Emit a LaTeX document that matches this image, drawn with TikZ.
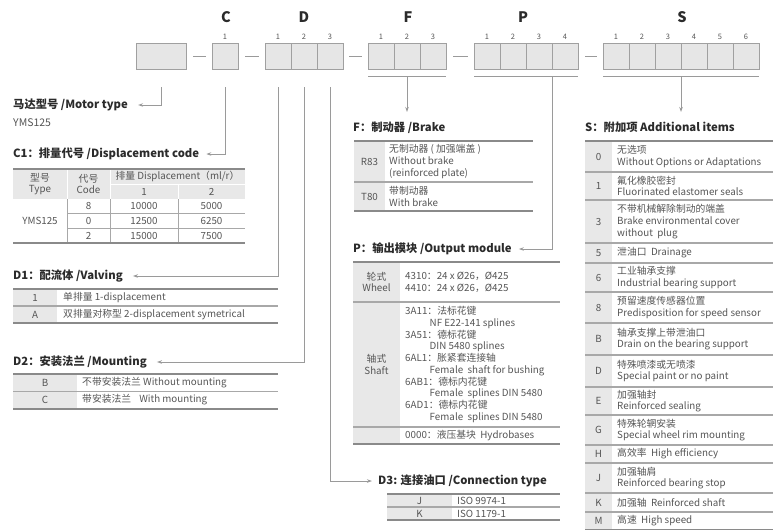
\documentclass[tikz,border=0pt]{standalone}
\usepackage{fontspec}
\setmainfont{Noto Sans CJK SC}
\usetikzlibrary{arrows.meta}
\definecolor{linegray}{HTML}{9A9A9A}
\definecolor{boxfill}{HTML}{E6E6E6}
\definecolor{boxline}{HTML}{A0A0A0}
\definecolor{cellfill}{HTML}{E8E8E8}
\definecolor{rulegray}{HTML}{8A8A8A}
\definecolor{midgray}{HTML}{A8A8A8}
\definecolor{txt}{HTML}{555555}
\definecolor{head}{HTML}{2B2B2B}
\begin{document}
\begin{tikzpicture}[x=1pt,y=-1pt,
 cell/.style={draw=boxline, fill=boxfill, line width=1pt, minimum width=26pt, minimum height=26pt, inner sep=0pt, outer sep=0pt},
 big/.style={font=\fontsize{14.5}{16}\selectfont\bfseries, text=head, inner sep=0pt},
 num/.style={font=\fontsize{7.5}{8}\selectfont, text=txt, inner sep=0pt},
 lbl/.style={font=\fontsize{11.3}{13}\selectfont\bfseries, text=head, anchor=west, inner sep=0pt},
 conn/.style={draw=linegray, line width=0.9pt, -{Stealth[length=5pt,width=3.5pt]}},
 ln/.style={draw=linegray, line width=1pt},
 tt/.style={font=\fontsize{9.8}{11.7}\selectfont, text=txt, inner sep=0pt},
 toprule/.style={draw=rulegray, line width=1.6pt},
 midrule/.style={draw=midgray, line width=1.1pt},
 thinrule/.style={draw=midgray, line width=0.7pt},
]
\useasboundingbox (0,0) rectangle (775,531);

% ---------- header letters ----------
\node[big] (lC) at (226,17) {C};
\node[big] (lD) at (304,17) {D};
\node[big] (lF) at (408,17) {F};
\node[big] (lP) at (523,17) {P};
\node[big] (lS) at (682,17) {S};

% ---------- code boxes ----------
\node[cell, minimum width=50pt] (motor) at (161,56) {};
\node[cell] (c1) at (225,56) {};
\node[num] (nc1) at (225,37) {1};
\foreach \i/\x in {1/278,2/304,3/330}{\node[cell] (d\i) at (\x,56) {}; \node[num] (nd\i) at (\x,37) {\i};}
\foreach \i/\x in {1/381,2/407,3/433}{\node[cell] (f\i) at (\x,56) {}; \node[num] (nf\i) at (\x,37) {\i};}
\foreach \i/\x in {1/487,2/513,3/539,4/565}{\node[cell] (p\i) at (\x,56) {}; \node[num] (np\i) at (\x,37) {\i};}
\foreach \i/\x in {1/616,2/642,3/668,4/694,5/720,6/746}{\node[cell] (s\i) at (\x,56) {}; \node[num] (ns\i) at (\x,37) {\i};}

% dashes
\draw[ln] ([xshift=7pt]motor.east) -- ([xshift=-6pt]c1.west);
\draw[ln] ([xshift=7pt]c1.east) -- ([xshift=-6pt]d1.west);
\draw[ln] ([xshift=6pt]d3.east) -- ([xshift=-6pt]f1.west);
\draw[ln] ([xshift=7pt]f3.east) -- ([xshift=-6pt]p1.west);
\draw[ln] ([xshift=7pt]p4.east) -- ([xshift=-6pt]s1.west);

% underlines
\draw[ln] ([yshift=-7pt]f1.south west) -- ([yshift=-7pt]f3.south east);
\draw[ln] ([yshift=-7pt]p1.south west) -- ([yshift=-7pt]p4.south east);
\draw[ln] ([yshift=-7pt]s1.south west) -- ([yshift=-7pt]s6.south east);
\coordinate (fu) at ([yshift=-7pt]f2.south);
\coordinate (pu) at ([yshift=-7pt]p3.south east);
\coordinate (su) at ([yshift=-7pt]s3.south east);
\coordinate (ftip) at (408,112);
\coordinate (stip) at (682,112);

% ---------- labels ----------
\node[lbl] (motorlbl) at (13,105) {马达型号 /Motor type};
\node[tt, anchor=west, font=\fontsize{10.5}{12}\selectfont] (ymslbl) at (13,123) {YMS125};
\node[lbl] (c1lbl) at (13,154) {C1：排量代号 /Displacement code};
\node[lbl] (d1lbl) at (13,276) {D1：配流体 /Valving};
\node[lbl] (d2lbl) at (13,362) {D2：安装法兰 /Mounting};
\node[lbl] (flbl) at (353,128) {F：制动器 /Brake};
\node[lbl] (plbl) at (353,249) {P：输出模块 /Output module};
\node[lbl] (d3lbl) at (378,481) {D3: 连接油口 /Connection type};
\node[lbl] (slbl) at (585,127) {S：附加项 Additional items};

% ---------- connectors ----------
\draw[conn] ([yshift=-18pt]motor.south) |- ([xshift=10pt]motorlbl.east);
\draw[conn] ([yshift=-18pt]c1.south) |- ([xshift=7pt]c1lbl.east);
\draw[conn] ([yshift=-18pt]d1.south) |- ([xshift=10pt]d1lbl.east);
\draw[conn] ([yshift=-18pt]d2.south) |- ([xshift=10pt]d2lbl.east);
\draw[conn] ([yshift=-18pt]d3.south) |- ([xshift=-6pt]d3lbl.west);
\draw[conn] (fu) -- (fu |- ftip);
\draw[conn] (pu) |- ([xshift=7pt]plbl.east);
\draw[conn] (su) -- (su |- stip);

% ---------- C1 table ----------
\fill[cellfill] (13,169) rectangle (245,199);
\draw[white, line width=1pt] (67,169)--(67,199) (110,169)--(110,199) (110,184)--(245,184) (178,184)--(178,199);
\draw[thinrule] (67,199)--(67,243) (110,199)--(110,243) (178,199)--(178,243) (67,213.5)--(245,213.5) (67,228)--(245,228);
\draw[toprule] (13,169)--(245,169) (13,243)--(245,243);
\node[tt, align=center] (c1h1) at (40,184) {型号\\Type};
\node[tt, align=center] (c1h2) at (88.5,184) {代号\\Code};
\node[tt] (c1h3) at (177.5,176.5) {排量 Displacement（ml/r）};
\node[tt] (c1h4) at (144,191.5) {1};
\node[tt] (c1h5) at (211.5,191.5) {2};
\node[tt] (c1m) at (40,221) {YMS125};
\foreach \k/\y/\a/\b in {8/206/10000/5000, 0/221/12500/6250, 2/235.5/15000/7500}{
  \node[tt] (c1k\k) at (88.5,\y) {\k};
  \node[tt] (c1a\k) at (144,\y) {\a};
  \node[tt] (c1b\k) at (211.5,\y) {\b};
}

% ---------- D1 table ----------
\fill[cellfill] (13,289) rectangle (57,323);
\draw[midrule] (13,306)--(278,306);
\draw[toprule] (13,289)--(278,289) (13,323)--(278,323);
\node[tt] (d1c1) at (35,297.5) {1};
\node[tt, anchor=west] (d1t1) at (63,297.5) {单排量 1-displacement};
\node[tt] (d1c2) at (35,314.5) {A};
\node[tt, anchor=west] (d1t2) at (63,314.5) {双排量对称型 2-displacement symetrical};

% ---------- D2 table ----------
\fill[cellfill] (13,374) rectangle (77,409);
\draw[midrule] (13,391.5)--(278,391.5);
\draw[toprule] (13,374)--(278,374) (13,409)--(278,409);
\node[tt] (d2c1) at (45,383) {B};
\node[tt, anchor=west] (d2t1) at (82,383) {不带安装法兰 Without mounting};
\node[tt] (d2c2) at (45,400) {C};
\node[tt, anchor=west] (d2t2) at (82,400) {带安装法兰\hspace{0.6em} With mounting};

% ---------- F table ----------
\fill[cellfill] (354,141) rectangle (385,211);
\draw[midrule] (354,182)--(533,182);
\draw[toprule] (354,141)--(533,141) (354,211)--(533,211);
\node[tt] (fc1) at (369.5,161.5) {R83};
\node[tt, anchor=west, align=left] (ft1) at (389,161.5) {无制动器 ( 加强端盖 )\\Without brake\\(reinforced plate)};
\node[tt] (fc2) at (369.5,196.5) {T80};
\node[tt, anchor=west, align=left] (ft2) at (389,196.5) {带制动器\\With brake};

% ---------- P table ----------
\fill[cellfill] (353,262) rectangle (400,444);
\draw[midrule] (353,302)--(560,302) (353,427)--(560,427);
\draw[toprule] (353,262)--(560,262) (353,444)--(560,444);
\node[tt, align=center] (pc1) at (376.5,282) {轮式\\Wheel};
\node[tt, anchor=west, align=left] (pt1) at (405,282) {4310：24 x Ø26，Ø425\\4410：24 x Ø26，Ø425};
\node[tt, align=center] (pc2) at (376.5,364.5) {轴式\\Shaft};
\node[tt, anchor=west, align=left] (pt2) at (405,364.5) {3A11：法标花键\\\hspace*{2.5em}NF E22-141 splines\\3A51：德标花键\\\hspace*{2.5em}DIN 5480 splines\\6AL1：胀紧套连接轴\\\hspace*{2.5em}Female~ shaft for bushing\\6AB1：德标内花键\\\hspace*{2.5em}Female~ splines DIN 5480\\6AD1：德标内花键\\\hspace*{2.5em}Female~ splines DIN 5480};
\node[tt, anchor=west] (pt3) at (405,435.5) {0000：液压基块~ Hydrobases};

% ---------- D3 table ----------
\fill[cellfill] (387,494) rectangle (452,520);
\draw[midrule] (387,507)--(560,507);
\draw[toprule] (387,494)--(560,494) (387,520)--(560,520);
\node[tt] (d3c1) at (419.5,500.5) {J};
\node[tt, anchor=west] (d3t1) at (457,500.5) {ISO 9974-1};
\node[tt] (d3c2) at (419.5,513.5) {K};
\node[tt, anchor=west] (d3t2) at (457,513.5) {ISO 1179-1};

% ---------- S table ----------
\fill[cellfill] (585,141) rectangle (612,530);
\foreach \y in {172,200,243,263,292,323,355,387,415,445,463,493,512}{\draw[midrule] (585,\y)--(773,\y);}
\draw[toprule] (585,141)--(773,141) (585,529.5)--(773,529.5);
\foreach \c/\y/\t in {
  0/156.5/{无选项\\Without Options or Adaptations},
  1/186/{氟化橡胶密封\\Fluorinated elastomer seals},
  3/221.5/{不带机械解除制动的端盖\\Brake environmental cover\\without~ plug},
  5/253/{泄油口~ Drainage},
  6/277.5/{工业轴承支撑\\Industrial bearing support},
  8/307.5/{预留速度传感器位置\\Predisposition for speed sensor},
  B/339/{轴承支撑上带泄油口\\Drain on the bearing support},
  D/371/{特殊喷漆或无喷漆\\Special paint or no paint},
  E/401/{加强轴封\\Reinforced sealing},
  G/430/{特殊轮辋安装\\Special wheel rim mounting},
  H/454/{高效率~ High efficiency},
  J/478/{加强轴肩\\Reinforced bearing stop},
  K/502.5/{加强轴~ Reinforced shaft},
  M/521/{高速~ High speed}}{
  \node[tt] (sc\c) at (598.5,\y) {\c};
  \node[tt, anchor=west, align=left] (st\c) at (617,\y) {\t};
}
\end{tikzpicture}
\end{document}
